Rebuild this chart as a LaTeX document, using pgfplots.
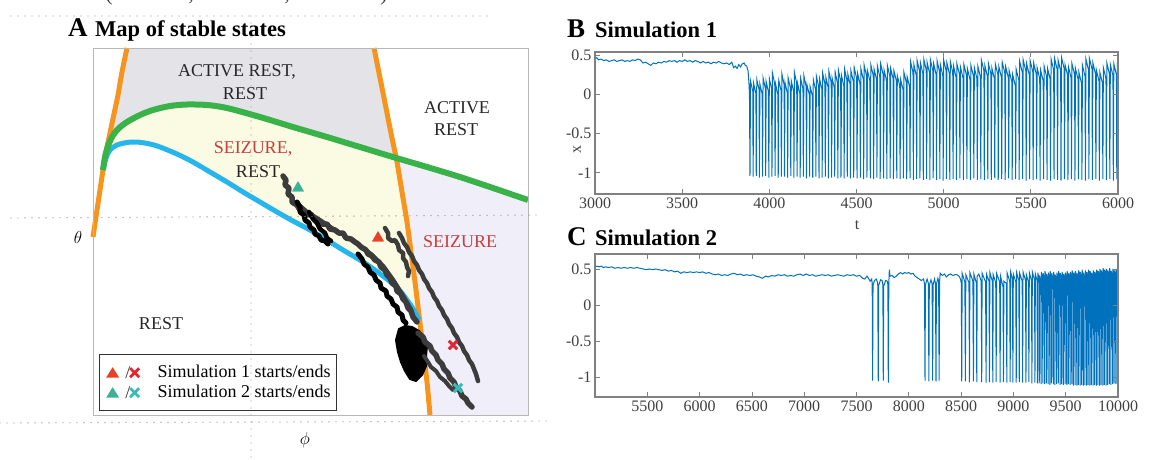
\documentclass[border=0pt]{standalone}
\usepackage{pgfplots}
\pgfplotsset{compat=1.18}
\usepackage{fontspec}
\setmainfont{Liberation Serif}
\definecolor{mblue}{RGB}{0,114,189}
\definecolor{orng}{RGB}{247,148,30}
\definecolor{grn}{RGB}{58,178,74}
\definecolor{cyb}{RGB}{38,182,236}
\definecolor{grayreg}{RGB}{228,228,232}
\definecolor{yelreg}{RGB}{251,251,227}
\definecolor{lavreg}{RGB}{240,238,248}
\definecolor{redtxt}{RGB}{198,62,62}
\definecolor{redmk}{RGB}{236,64,36}
\definecolor{redx}{RGB}{228,36,48}
\definecolor{tealmk}{RGB}{58,178,150}
\definecolor{tealx}{RGB}{60,186,186}
\definecolor{traj}{RGB}{60,60,60}
\definecolor{dotc}{RGB}{150,150,150}
\newcommand{\fs}[1]{\fontsize{#1}{#1}\selectfont}
\begin{document}
\begin{tikzpicture}

% ================= Panel A =================
\begin{axis}[
  at={(310.5pt,-231.5pt)}, anchor=center,
  width=435pt, height=367pt, scale only axis,
  xmin=93, xmax=528, ymin=48, ymax=415, y dir=reverse,
  ticks=none, axis line style={draw=black!28, line width=1pt},
  clip=false, axis on top,
  legend cell align=left,
  legend style={at={(axis cs:99,354)}, anchor=north west, draw=black!80, line width=1.3pt, fill=white,
    font=\fs{18}, inner xsep=5pt, inner ysep=8pt, row sep=0pt,
    nodes={inner sep=1pt, text height=14pt, text depth=4pt}},
]
% regions
\addplot[fill=grayreg, draw=none, forget plot] coordinates {
(127,48)(374,48)(380,78)(386,108)(392,138)(397,162)
(393,157)(360,147)(327,137)(293,127)(260,117)(227,108)(207,105)(187,104.5)(170,106)(153,110)(140,115)(127,122)(118,129)(112,137)(108,146)(105,157)(103,170)
(106,152)(110,133)(114,114)(118,95)(122,72)(127,48)} -- cycle;
\addplot[fill=yelreg, draw=none, forget plot] coordinates {
(103,170)(105,157)(108,146)(112,137)(118,129)(127,122)(140,115)(153,110)(170,106)(187,104.5)(207,105)(227,108)(260,117)(293,127)(327,137)(360,147)(393,157)(397,159)
(402,192)(407,222)(411,252)(415,282)(419,318)
(416,314)(412,307)(407,300)(401,292)(393,284)(383,276)(372,268)(360,260)(343,250)(327,240)(310,230)(293,221)(277,212)(260,202)(243,192)(227,182)(210,172)(193,162)(177,154)(160,147)(150,144)(137,142)(127,142.5)(117,145)(110,150)(106,158)(103,170)} -- cycle;
\addplot[fill=lavreg, draw=none, forget plot] coordinates {
(397,159)(427,167)(460,177)(493,188)(528,200)(528,415)(430,415)(427,382)(423,348)(419,315)(415,282)(411,252)(407,222)(402,192)(397,159)} -- cycle;
% boundary curves
\addplot[orng, line width=5pt, smooth, forget plot] coordinates {
(93,237)(97,210)(100,190)(103,170)(106,152)(110,133)(114,114)(118,95)(122,72)(127,48)};
\addplot[orng, line width=5pt, smooth, forget plot] coordinates {
(374,48)(380,78)(386,108)(392,138)(397,162)(402,192)(407,222)(411,252)(415,282)(419,315)(423,348)(427,382)(430,415)};
\addplot[cyb, line width=5pt, smooth, forget plot] coordinates {
(103,170)(106,158)(110,150)(117,145)(127,142.5)(137,142)(150,144)(160,147)(177,154)(193,162)(210,172)(227,182)(243,192)(260,202)(277,212)(293,221)(310,230)(327,240)(343,250)(360,260)(372,268)(383,276)(393,284)(401,292)(407,300)(412,307)(416,314)(419,320)};
\addplot[grn, line width=6pt, smooth, forget plot] coordinates {
(103,170)(105,157)(108,146)(112,137)(118,129)(127,122)(140,115)(153,110)(170,106)(187,104.5)(207,105)(227,108)(260,117)(293,127)(327,137)(360,147)(393,157)(427,167)(460,177)(493,188)(528,200)};
% trajectories (simulation 2)
\addplot[traj, line width=5.5pt, line join=round, line cap=round, forget plot] coordinates {
(283,176)(286,180)(285,185)(289,188)(288,194)(292,197)(292,202)(297,205)(300,210)(304,211)(307,215)(311,214)(314,219)(319,221)(322,224)(327,224)(330,229)(335,230)(339,233)(343,233)(346,238)(351,239)(355,242)(358,244)(361,247)(366,250)(368,254)(372,256)(375,260)(379,262)(381,267)(385,270)(387,275)(390,278)(392,283)(396,286)(397,291)(401,294)(403,299)(406,302)(408,308)(411,311)(413,317)(417,322)};
\addplot[traj, line width=3pt, line join=round, line cap=round, forget plot] coordinates {
(300,205)(308,212)(318,218)(330,226)(345,236)(360,245)(372,254)(384,266)(394,280)(404,296)(412,310)};
\addplot[black, line width=5pt, line join=round, line cap=round, forget plot] coordinates {
(297,202)(300,207)(300,212)(304,215)(305,220)(309,223)(310,227)(314,230)(315,234)(319,236)(321,240)(325,241)(328,244)};
\addplot[black, line width=4.5pt, line join=round, line cap=round, forget plot] coordinates {
(309,212)(313,219)(317,223)(320,229)(325,233)(327,238)(331,241)};
\addplot[black, line width=5pt, line join=round, line cap=round, forget plot] coordinates {
(358,254)(362,259)(364,264)(368,267)(370,272)(374,275)(376,280)(380,283)(381,288)(386,291)(387,296)(391,299)(393,304)(397,307)(398,312)(402,315)(403,320)(406,323)};
\addplot[black, fill=black, line width=2pt, line join=round, forget plot] coordinates {
(399,329)(405,326)(412,327)(419,331)(424,337)(427,346)(426,356)(426,366)(422,375)(416,381)(410,379)(405,371)(401,362)(398,352)(396,340)} -- cycle;
\addplot[traj, line width=5.5pt, line join=round, line cap=round, forget plot] coordinates {
(418,333)(423,337)(425,342)(430,346)(432,351)(436,355)(438,360)(442,364)(444,369)(448,373)(450,378)(454,382)(456,387)(460,391)(462,396)(466,399)(468,403)(472,407)};
\addplot[traj, line width=4pt, line join=round, line cap=round, forget plot] coordinates {
(424,356)(428,362)(431,367)(436,371)(440,377)(445,381)(449,386)(453,390)};
% trajectories (simulation 1)
\addplot[traj, line width=4.5pt, line join=round, line cap=round, forget plot] coordinates {
(385,228)(388,233)(388,238)(392,241)(395,240)(398,245)(399,250)(403,253)(403,258)(406,262)(407,267)(409,271)(408,276)};
\addplot[traj, line width=4.5pt, line join=round, line cap=round, forget plot] coordinates {
(399,233)(402,238)(404,243)(407,247)(409,252)(412,256)(414,261)(417,265)(419,270)(422,274)(424,279)(427,283)(429,288)(432,292)(434,297)(437,301)(439,306)(442,310)(444,315)(447,319)(449,324)(452,328)(454,333)(457,337)(459,342)(462,346)(464,351)(467,355)(469,360)(472,364)(474,369)(476,374)(478,381)};
% start / end markers
\addplot[only marks, mark=triangle*, mark size=6.5pt, color=redmk, forget plot] coordinates {(378,238)};
\addplot[only marks, mark=triangle*, mark size=6.5pt, color=tealmk, forget plot] coordinates {(298,188)};
\addplot[only marks, mark=x, mark size=6pt, mark options={line width=3pt}, color=redx, forget plot] coordinates {(453,345)};
\addplot[only marks, mark=x, mark size=6pt, mark options={line width=3pt}, color=tealx, forget plot] coordinates {(458,388)};
% region labels
\node[font=\fs{18}, text=black!85] at (axis cs:237,72) {ACTIVE REST,};
\node[font=\fs{18}, text=black!85] at (axis cs:245,94) {REST};
\node[font=\fs{18}, text=black!85] at (axis cs:457,108) {ACTIVE};
\node[font=\fs{18}, text=black!85] at (axis cs:456,130) {REST};
\node[font=\fs{18}, text=redtxt] at (axis cs:253,149) {SEIZURE,};
\node[font=\fs{18}, text=black!85] at (axis cs:258,172) {REST};
\node[font=\fs{18}, text=redtxt] at (axis cs:460,242) {SEIZURE};
\node[font=\fs{18}, text=black!85] at (axis cs:161,324) {REST};
% legend
\addlegendimage{legend image code/.code={
  \path[draw=none, fill=none] (0pt,0pt) -- (52pt,0pt);
  \fill[redmk, draw=none] (1.5pt,-5pt) -- (8pt,5.5pt) -- (14.5pt,-5pt) -- cycle;
  \node[inner sep=0pt, text height=, text depth=, font=\fs{18}, text=black!80, draw=none] at (20pt,0pt) {/};
  \draw[redx, line width=2.8pt] (25.5pt,-4.5pt) -- (34.5pt,4.5pt) (25.5pt,4.5pt) -- (34.5pt,-4.5pt);}}
\addlegendentry{Simulation 1 starts/ends}
\addlegendimage{legend image code/.code={
  \path[draw=none, fill=none] (0pt,0pt) -- (52pt,0pt);
  \fill[tealmk, draw=none] (1.5pt,-5pt) -- (8pt,5.5pt) -- (14.5pt,-5pt) -- cycle;
  \node[inner sep=0pt, text height=, text depth=, font=\fs{18}, text=black!80, draw=none] at (20pt,0pt) {/};
  \draw[tealx, line width=2.8pt] (25.5pt,-4.5pt) -- (34.5pt,4.5pt) (25.5pt,4.5pt) -- (34.5pt,-4.5pt);}}
\addlegendentry{Simulation 2 starts/ends}
\end{axis}

% ================= Panel B =================
\begin{axis}[
  at={(856.5pt,-123pt)}, anchor=center,
  width=523pt, height=142pt, scale only axis,
  xmin=3000, xmax=6000, ymin=-1.27, ymax=0.54,
  scaled x ticks=false, scaled y ticks=false,
  xtick={3000,3500,4000,4500,5000,5500,6000},
  xticklabels={3000,3500,4000,4500,5000,5500,6000},
  ytick={-1,-0.5,0,0.5}, yticklabels={-1,-0.5,0,0.5},
  tick align=inside, major tick length=5pt,
  tick style={draw=black!50, line width=0.8pt},
  axis line style={draw=black!50, line width=1.2pt},
  tick label style={font=\fs{16}, text=black!75},
  xlabel={t}, ylabel={x},
  xlabel style={font=\fs{16}, text=black!75, at={(axis description cs:0.501,-0.218)}, anchor=center},
  ylabel style={font=\fs{16}, text=black!75, at={(axis description cs:-0.034,0.31)}, anchor=center},
  axis on top,
]
\addplot[mblue, line width=1pt] coordinates {
(3000,0.45)(3010,0.47)(3020,0.44)(3035,0.45)(3050,0.43)(3065,0.44)(3080,0.42)(3095,0.43)(3110,0.44)(3125,0.42)(3140,0.43)(3155,0.44)(3170,0.42)(3185,0.43)(3200,0.42)(3215,0.44)(3230,0.43)(3245,0.45)(3260,0.44)(3275,0.40)(3290,0.41)(3305,0.39)(3320,0.37)(3335,0.40)(3350,0.39)(3365,0.41)(3380,0.40)(3395,0.42)(3410,0.41)(3425,0.43)(3440,0.42)(3455,0.43)(3470,0.41)(3485,0.43)(3500,0.42)(3515,0.44)(3530,0.42)(3545,0.43)(3560,0.41)(3575,0.43)(3590,0.42)(3605,0.40)(3620,0.42)(3635,0.40)(3650,0.41)(3665,0.39)(3680,0.41)(3695,0.40)(3710,0.42)(3725,0.40)(3740,0.39)(3755,0.40)(3770,0.38)(3785,0.41)(3795,0.34)(3805,0.36)(3815,0.33)(3825,0.38)(3835,0.35)(3845,0.39)(3855,0.40)(3862,0.37)(3870,0.36)(3878,0.30)(3883,0.15)(3886,0.0)
(3889,-1.04)(3892,0.17)(3905,0.04)(3907,-1.05)(3910,0.14)(3923,0.01)(3925,-1.04)(3928,0.19)(3941,0.06)(3943,-1.06)(3946,0.13)(3959,0.00)(3961,-1.05)(3964,0.21)(3977,0.08)(3979,-1.04)(3982,0.16)(3995,0.03)(3997,-1.06)(4000,0.20)(4013,0.07)(4015,-1.05)(4018,0.27)(4031,0.13)(4033,-1.04)(4036,0.13)(4049,0.00)(4051,-1.06)(4054,0.18)(4067,0.05)(4069,-1.05)(4072,0.26)(4085,0.12)(4087,-1.05)(4090,0.15)(4103,0.02)(4105,-1.06)(4108,0.21)(4121,0.08)(4123,-1.04)(4126,0.17)(4139,0.04)(4141,-1.06)(4144,0.28)(4157,0.14)(4159,-1.05)(4162,0.14)(4175,0.01)(4177,-1.06)(4180,0.20)(4193,0.07)(4195,-1.05)(4198,0.24)(4211,0.10)(4213,-1.07)(4216,0.12)(4229,0.00)(4231,-1.05)(4234,0.10)(4247,-0.02)(4249,-1.06)(4252,0.19)(4265,0.06)(4267,-1.05)(4270,0.23)(4283,0.10)(4285,-1.07)(4288,0.20)(4301,0.07)(4303,-1.06)(4306,0.27)(4319,0.13)(4321,-1.05)(4324,0.22)(4337,0.09)(4339,-1.07)(4342,0.29)(4355,0.15)(4357,-1.06)(4360,0.21)(4373,0.08)(4375,-1.05)(4378,0.28)(4391,0.14)(4393,-1.07)(4396,0.31)(4409,0.17)(4411,-1.06)(4414,0.24)(4427,0.11)(4429,-1.07)(4432,0.32)(4445,0.18)(4447,-1.05)(4450,0.26)(4463,0.13)(4465,-1.07)(4468,0.30)(4482,0.16)(4484,-1.06)(4487,0.34)(4501,0.20)(4503,-1.07)(4506,0.27)(4520,0.14)(4522,-1.06)(4525,0.33)(4539,0.19)(4541,-1.08)(4544,0.37)(4558,0.23)(4560,-1.06)(4563,0.30)(4577,0.17)(4579,-1.07)(4582,0.38)(4596,0.24)(4598,-1.08)(4601,0.32)(4615,0.19)(4617,-1.06)(4620,0.36)(4634,0.22)(4636,-1.08)(4639,0.39)(4653,0.25)(4655,-1.07)(4658,0.31)(4672,0.18)(4674,-1.08)(4677,0.37)(4691,0.23)(4693,-1.07)(4696,0.33)(4710,0.20)(4712,-1.08)(4715,0.30)(4729,0.17)(4731,-1.07)(4734,0.24)(4748,0.11)(4750,-1.08)(4753,0.19)(4767,0.06)(4769,-1.07)(4772,0.28)(4786,0.15)(4788,-1.08)(4791,0.22)(4805,0.09)(4807,-1.07)(4810,0.42)(4824,0.28)(4826,-1.09)(4829,0.38)(4843,0.24)(4845,-1.08)(4848,0.43)(4862,0.29)(4864,-1.07)(4867,0.40)(4881,0.26)(4883,-1.09)(4886,0.45)(4900,0.31)(4902,-1.08)(4905,0.41)(4919,0.27)(4921,-1.09)(4924,0.44)(4938,0.30)(4940,-1.07)(4943,0.39)(4957,0.25)(4959,-1.09)(4962,0.43)(4976,0.29)(4978,-1.08)(4981,0.38)(4995,0.24)(4997,-1.10)(5000,0.44)(5014,0.30)(5016,-1.08)(5019,0.40)(5033,0.26)(5035,-1.09)(5038,0.42)(5052,0.28)(5054,-1.08)(5057,0.36)(5071,0.22)(5073,-1.09)(5076,0.39)(5091,0.25)(5093,-1.07)(5096,0.35)(5111,0.21)(5113,-1.09)(5116,0.38)(5131,0.24)(5133,-1.08)(5136,0.33)(5151,0.19)(5153,-1.09)(5156,0.37)(5171,0.23)(5173,-1.07)(5176,0.34)(5191,0.20)(5193,-1.09)(5196,0.36)(5211,0.22)(5213,-1.08)(5216,0.44)(5231,0.30)(5233,-1.09)(5236,0.37)(5251,0.23)(5253,-1.08)(5256,0.40)(5271,0.26)(5273,-1.09)(5276,0.34)(5291,0.20)(5293,-1.07)(5296,0.39)(5311,0.25)(5313,-1.09)(5316,0.36)(5331,0.22)(5333,-1.08)(5336,0.41)(5351,0.27)(5353,-1.09)(5356,0.35)(5371,0.21)(5373,-1.07)(5376,0.30)(5391,0.16)(5393,-1.09)(5396,0.25)(5411,0.11)(5413,-1.08)(5416,0.32)(5431,0.18)(5433,-1.09)(5436,0.42)(5451,0.28)(5453,-1.08)(5456,0.44)(5471,0.30)(5473,-1.10)(5476,0.39)(5491,0.25)(5493,-1.08)(5496,0.43)(5511,0.29)(5513,-1.09)(5516,0.40)(5531,0.26)(5533,-1.08)(5536,0.34)(5551,0.20)(5553,-1.10)(5556,0.31)(5571,0.17)(5573,-1.08)(5576,0.36)(5591,0.22)(5593,-1.09)(5596,0.33)(5611,0.19)(5613,-1.10)(5616,0.45)(5631,0.31)(5633,-1.08)(5636,0.46)(5651,0.32)(5653,-1.09)(5656,0.44)(5671,0.30)(5673,-1.10)(5676,0.47)(5691,0.33)(5693,-1.08)(5696,0.38)(5711,0.24)(5713,-1.09)(5716,0.35)(5731,0.21)(5733,-1.08)(5736,0.39)(5751,0.25)(5753,-1.10)(5756,0.33)(5771,0.19)(5773,-1.08)(5776,0.28)(5791,0.14)(5793,-1.09)(5796,0.37)(5811,0.23)(5813,-1.10)(5816,0.45)(5831,0.31)(5833,-1.08)(5836,0.46)(5851,0.32)(5853,-1.09)(5856,0.40)(5871,0.26)(5873,-1.08)(5876,0.31)(5891,0.17)(5893,-1.10)(5896,0.28)(5911,0.14)(5913,-1.08)(5916,0.34)(5931,0.20)(5933,-1.09)(5936,0.40)(5951,0.26)(5953,-1.08)(5956,0.38)(5971,0.24)(5973,-1.10)(5976,0.39)(5991,0.25)(5993,-1.08)(5996,0.37)(6000,0.34)};
\end{axis}

% ================= Panel C =================
\begin{axis}[
  at={(856.5pt,-325.5pt)}, anchor=center,
  width=523pt, height=143pt, scale only axis,
  xmin=5000, xmax=10000, ymin=-1.278, ymax=0.708,
  scaled x ticks=false, scaled y ticks=false,
  xtick={5500,6000,6500,7000,7500,8000,8500,9000,9500,10000},
  xticklabels={5500,6000,6500,7000,7500,8000,8500,9000,9500,10000},
  ytick={-1,-0.5,0,0.5}, yticklabels={-1,-0.5,0,0.5},
  tick align=inside, major tick length=5pt,
  tick style={draw=black!50, line width=0.8pt},
  axis line style={draw=black!50, line width=1.2pt},
  tick label style={font=\fs{16}, text=black!75},
  axis on top,
]
\addplot[mblue, line width=1pt] coordinates {
(5000,0.22)(5003,0.53)(5020,0.54)(5040,0.53)(5060,0.54)(5080,0.52)(5100,0.53)(5130,0.52)(5160,0.53)(5190,0.51)(5220,0.52)(5250,0.51)(5280,0.52)(5310,0.51)(5340,0.52)(5370,0.51)(5400,0.52)(5430,0.51)(5460,0.50)(5490,0.49)(5520,0.50)(5550,0.49)(5580,0.50)(5610,0.49)(5640,0.48)(5670,0.49)(5700,0.47)(5730,0.48)(5760,0.46)(5790,0.47)(5820,0.44)(5850,0.46)(5880,0.45)(5910,0.46)(5940,0.45)(5970,0.46)(6000,0.45)(6030,0.46)(6060,0.44)(6090,0.45)(6120,0.43)(6150,0.42)(6180,0.43)(6210,0.41)(6240,0.42)(6270,0.41)(6300,0.43)(6330,0.44)(6360,0.42)(6390,0.43)(6420,0.41)(6450,0.42)(6480,0.41)(6510,0.42)(6540,0.40)(6570,0.39)(6600,0.37)(6630,0.40)(6660,0.39)(6690,0.41)(6720,0.40)(6750,0.42)(6780,0.41)(6810,0.42)(6840,0.40)(6870,0.41)(6900,0.40)(6930,0.42)(6960,0.43)(6990,0.41)(7020,0.43)(7050,0.41)(7080,0.42)(7110,0.40)(7140,0.41)(7170,0.42)(7200,0.41)(7230,0.42)(7260,0.40)(7290,0.41)(7320,0.42)(7350,0.41)(7380,0.40)(7410,0.42)(7440,0.41)(7470,0.42)(7500,0.40)(7530,0.41)(7560,0.37)(7580,0.36)(7600,0.40)(7615,0.37)(7630,0.33)(7645,0.36)
(7650,0.30)(7654,-1.05)(7658,0.28)(7672,0.34)(7690,0.36)(7703,0.30)(7708,-1.06)(7712,0.27)(7730,0.35)(7745,0.34)(7752,0.28)(7756,-1.05)(7760,0.26)(7778,0.34)(7795,0.33)(7800,0.28)(7804,-1.08)(7809,0.30)(7814,0.49)(7820,0.40)(7840,0.41)(7860,0.38)(7880,0.40)(7900,0.43)(7920,0.45)(7940,0.43)(7960,0.45)(7980,0.44)(8000,0.45)(8020,0.43)(8040,0.44)(8060,0.40)(8080,0.38)(8100,0.36)(8120,0.34)(8140,0.36)
(8150,0.30)(8155,-1.05)(8159,0.28)(8175,0.36)(8187,0.30)(8192,-1.06)(8196,0.27)(8212,0.35)(8223,0.30)(8228,-1.05)(8232,0.28)(8246,0.36)(8255,0.30)(8260,-1.06)(8264,0.29)(8278,0.37)(8285,0.33)(8290,-1.05)(8294,0.32)(8300,0.44)(8320,0.41)(8340,0.43)(8360,0.39)(8380,0.42)(8400,0.43)(8420,0.41)(8440,0.42)(8460,0.42)(8480,0.40)(8495,0.36)
(8502,0.30)(8506,-1.06)(8510,0.44)(8536,0.32)(8541,-1.06)(8545,0.42)(8575,0.31)(8580,-1.07)(8584,0.45)(8613,0.33)(8618,-1.06)(8622,0.43)(8645,0.31)(8650,-1.07)(8654,0.40)(8670,0.43)(8692,0.33)(8697,-1.07)(8701,0.44)(8734,0.32)(8739,-1.08)(8743,0.43)(8767,0.33)(8771,-1.07)(8775,0.45)(8799,0.33)(8803,-1.08)(8807,0.42)(8831,0.31)(8835,-1.07)(8839,0.44)(8869,0.32)(8873,-1.08)(8877,0.40)(8901,0.25)(8905,-1.07)(8909,0.33)(8933,0.30)(8937,-1.08)(8941,0.44)(8965,0.33)(8969,-1.07)(8973,0.46)(8991,0.36)(8995,-1.08)(8999,0.43)(9023,0.32)(9027,-1.08)(9031,0.45)(9052,0.34)(9056,-1.07)(9060,0.44)(9084,0.33)(9088,-1.08)(9092,0.46)(9116,0.34)(9120,-1.08)(9124,0.42)(9144,0.32)(9148,-1.07)(9152,0.45)(9173,0.34)(9177,-1.09)(9181,0.46)(9202,0.35)(9206,-1.08)(9210,0.43)(9226,0.34)(9230,-1.09)(9233,0.45)
(9245,0.36)(9247,-1.09)(9250,0.41)(9262,0.32)(9264,-1.10)(9267,0.46)(9279,0.37)(9281,-1.09)(9284,0.44)(9296,0.35)(9298,-1.10)(9301,0.47)(9313,0.38)(9315,-1.09)(9318,0.43)(9329,0.34)(9331,-1.10)(9334,0.45)(9346,0.36)(9348,-1.11)(9351,0.47)(9362,0.38)(9364,-1.09)(9367,0.44)(9379,0.35)(9381,-1.10)(9384,0.46)(9395,0.37)(9397,-1.11)(9400,0.42)(9411,0.33)(9413,-1.10)(9416,0.45)(9427,0.36)(9429,-1.09)(9432,0.47)(9444,0.38)(9446,-1.11)(9449,0.44)(9460,0.35)(9462,-1.10)(9465,0.46)(9476,0.37)(9478,-1.11)(9481,0.43)(9492,0.34)(9494,-1.10)(9497,0.45)(9508,0.36)(9510,-1.11)(9513,0.47)(9524,0.38)(9526,-1.10)(9529,0.44)(9540,0.35)(9542,-1.11)(9545,0.46)(9556,0.37)(9558,-1.10)(9561,0.48)(9572,0.39)(9574,-1.12)(9577,0.45)(9588,0.36)(9590,-1.11)(9593,0.47)(9604,0.38)(9606,-1.12)(9609,0.44)(9619,0.35)(9621,-1.11)(9624,0.48)(9635,0.39)(9637,-1.12)(9640,0.46)(9651,0.37)(9653,-1.11)(9656,0.49)(9666,0.40)(9668,-1.12)(9671,0.45)(9682,0.36)(9684,-1.11)(9687,0.48)(9698,0.39)(9700,-1.12)(9703,0.46)(9713,0.37)(9715,-1.11)(9718,0.49)(9729,0.40)(9731,-1.12)(9734,0.47)(9744,0.38)(9746,-1.11)(9749,0.45)(9760,0.36)(9762,-1.12)(9765,0.48)(9775,0.39)(9777,-1.11)(9780,0.46)(9791,0.37)(9793,-1.12)(9796,0.49)(9806,0.40)(9808,-1.11)(9811,0.47)(9822,0.38)(9824,-1.12)(9827,0.50)(9837,0.41)(9839,-1.11)(9842,0.48)(9853,0.39)(9855,-1.12)(9858,0.51)(9868,0.42)(9870,-1.11)(9873,0.49)(9884,0.40)(9886,-1.12)(9889,0.50)(9899,0.41)(9901,-1.11)(9904,0.48)(9915,0.39)(9917,-1.10)(9920,0.51)(9930,0.42)(9932,-1.11)(9935,0.47)(9946,0.38)(9948,-1.10)(9951,0.50)(9961,0.41)(9963,-1.09)(9966,0.48)(9977,0.39)(9979,-1.10)(9982,0.50)(9992,0.41)(9994,-1.09)(9997,0.49)(10000,0.46)};
\end{axis}

% ================= titles, symbols, decorative dotted guides =================
\begin{scope}[x=1pt,y=-1pt]
\node[anchor=base west, inner sep=0pt, font=\fs{27}\bfseries] at (68,37) {A};
\node[anchor=base west, inner sep=0pt, font=\fs{22.5}\bfseries] at (95,37) {Map of stable states};
\node[anchor=base west, inner sep=0pt, font=\fs{27}\bfseries] at (567,38) {B};
\node[anchor=base west, inner sep=0pt, font=\fs{22.5}\bfseries] at (595,38) {Simulation 1};
\node[anchor=base west, inner sep=0pt, font=\fs{27}\bfseries] at (567,245) {C};
\node[anchor=base west, inner sep=0pt, font=\fs{22.5}\bfseries] at (595,245) {Simulation 2};
\node[font=\fs{18}] at (78,237) {$\theta$};
\node[font=\fs{18}] at (305,440) {$\phi$};
\node[anchor=base, inner sep=0pt, font=\fs{22}, text=black!75] at (109,1) {(};
\node[anchor=base, inner sep=0pt, font=\fs{22}, text=black!75] at (191,1) {,};
\node[anchor=base, inner sep=0pt, font=\fs{22}, text=black!75] at (287,1) {,};
\node[anchor=base, inner sep=0pt, font=\fs{22}, text=black!75] at (384,1) {)};
\draw[dotc, line width=1.4pt, line cap=round, dash pattern=on 0pt off 7pt] (11,16) -- (491,16);
\draw[dotc, line width=1.4pt, line cap=round, dash pattern=on 0pt off 7pt] (11,218) -- (541,215);
\draw[dotc, line width=1.4pt, line cap=round, dash pattern=on 0pt off 7pt] (0,423) -- (548,421);
\draw[dotc, line width=1.4pt, line cap=round, dash pattern=on 0pt off 7pt] (251,16) -- (251,460);
\end{scope}
\pgfresetboundingbox
\path[use as bounding box] (0pt,0pt) rectangle (1163pt,-460pt);
\end{tikzpicture}
\end{document}
